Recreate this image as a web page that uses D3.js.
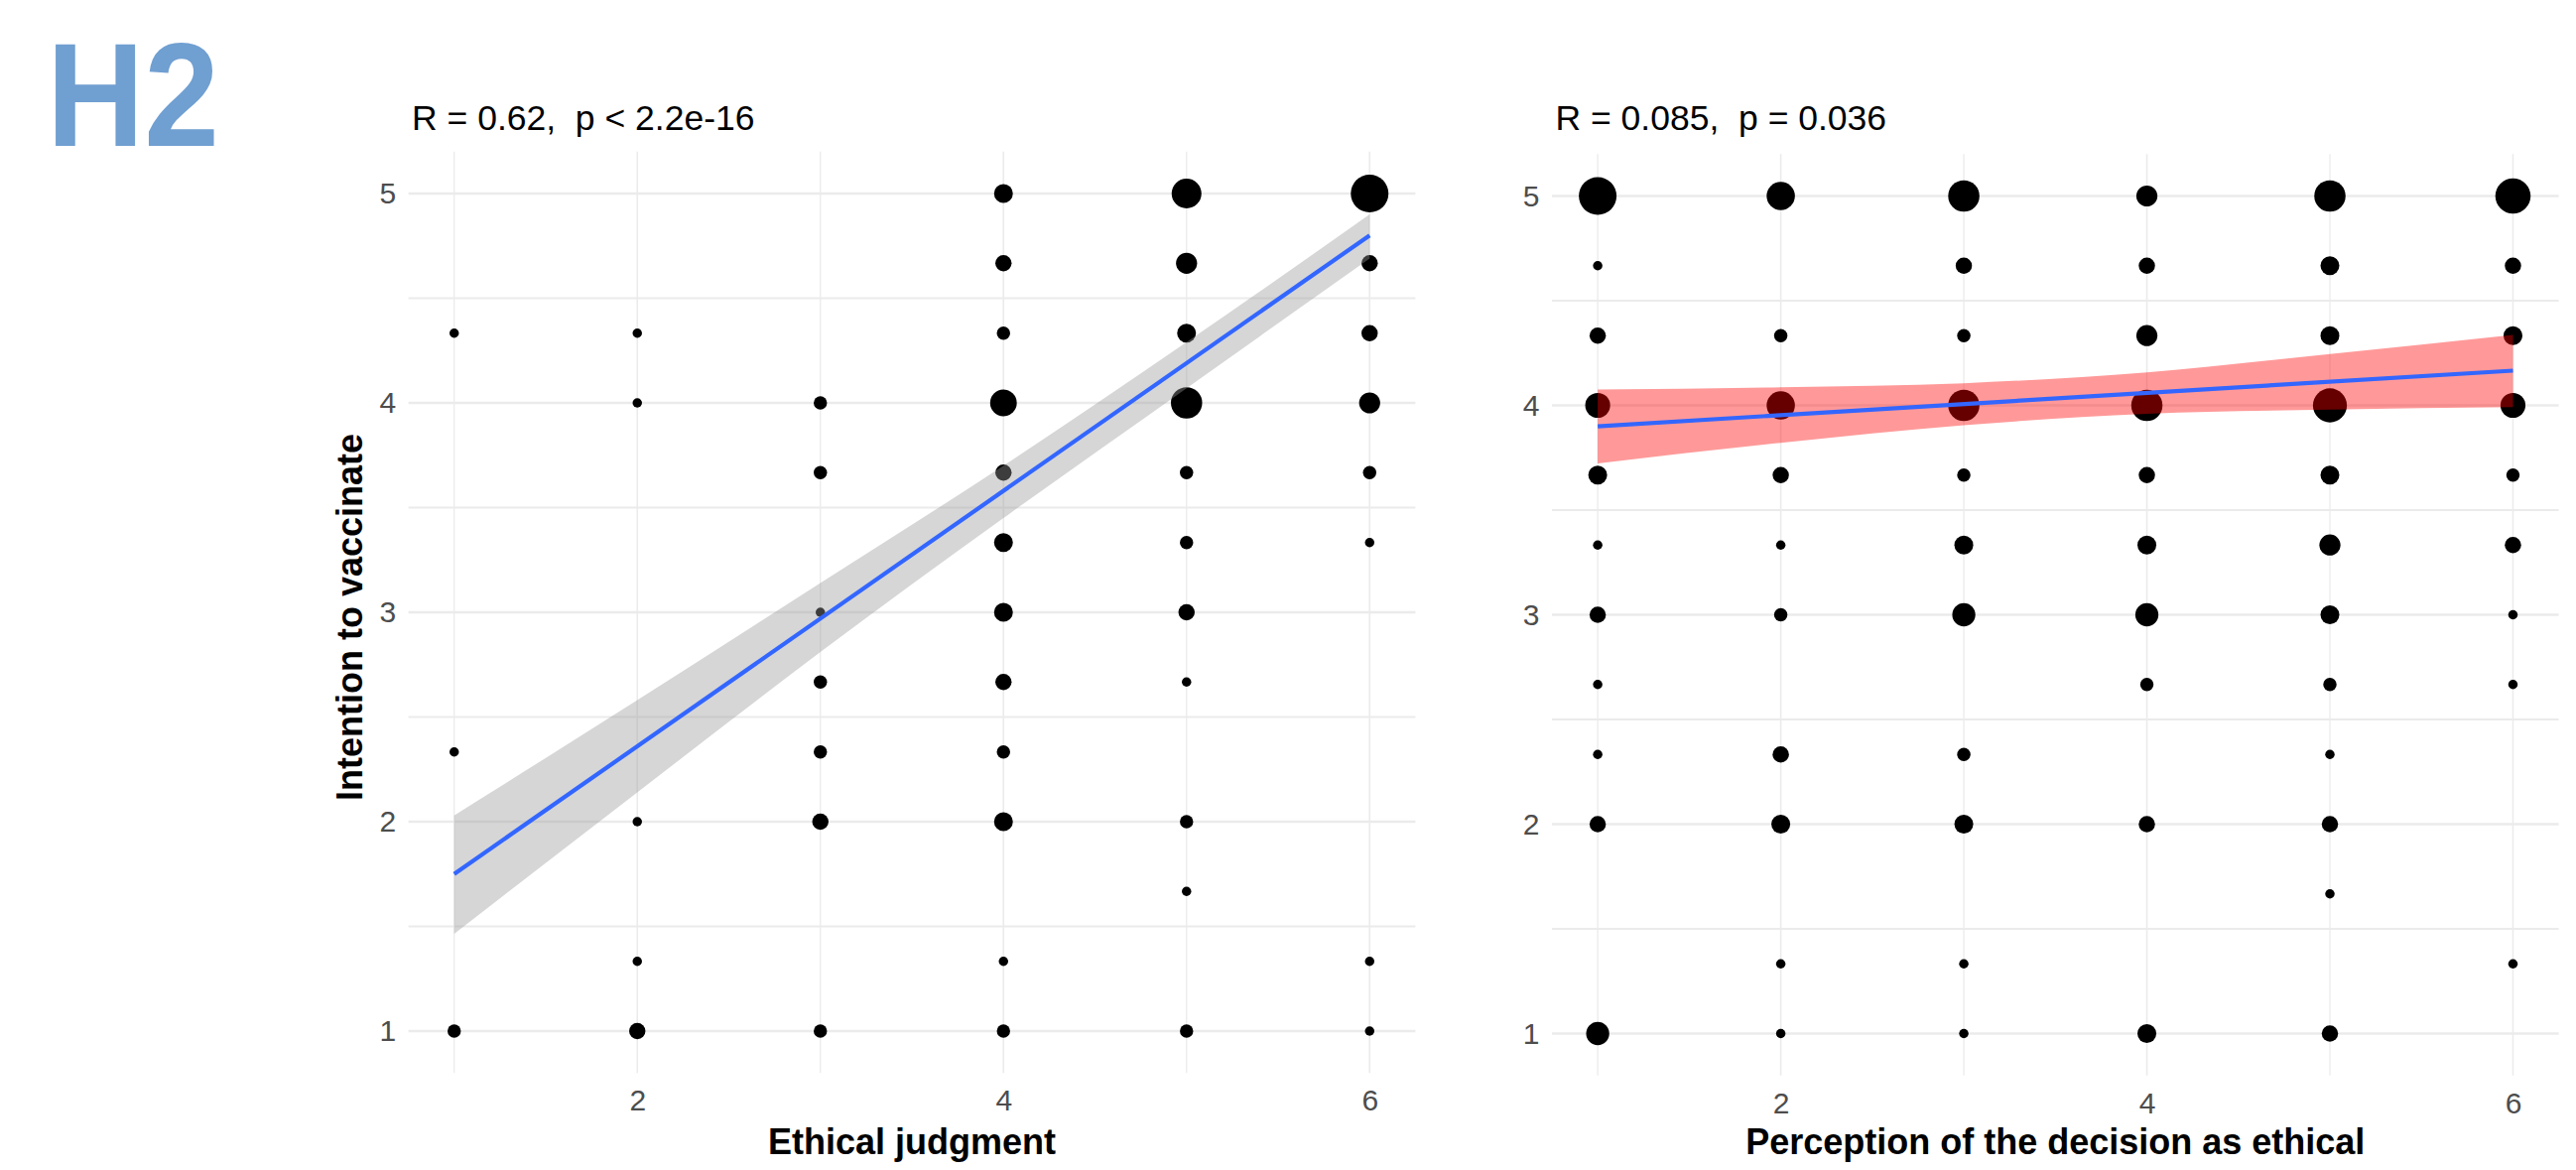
<!DOCTYPE html>
<html>
<head>
<meta charset="utf-8">
<script src="https://cdn.jsdelivr.net/npm/d3@7"></script>
<style>
  body { margin: 0; background: #fff; }
  svg text { font-family: "Liberation Sans", Arial, sans-serif; }
</style>
</head>
<body>
<svg id="chart"></svg>
<script>
const width = 2596;
const height = 1179;

// ticks and grid, same on both panels
const xTicks = [2, 4, 6];
const xMinor = [1, 3, 5];
const yTicks = [1, 2, 3, 4, 5];
const yMinor = [1.5, 2.5, 3.5, 4.5];

// [x, y, count] -- counts
const ethicalCounts = [
  [1, 4.333, 1], [1, 2.333, 1], [1, 1, 2],
  [2, 4.333, 1], [2, 4, 1], [2, 2, 1], [2, 1.333, 1], [2, 1, 3],
  [3, 4, 2], [3, 3.667, 2], [3, 3, 1], [3, 2.667, 2], [3, 2.333, 2], [3, 2, 3], [3, 1, 2],
  [4, 5, 4], [4, 4.667, 3], [4, 4.333, 2], [4, 4, 8], [4, 3.667, 3], [4, 3.333, 4], [4, 3, 4],
  [4, 2.667, 3], [4, 2.333, 2], [4, 2, 4], [4, 1.333, 1], [4, 1, 2],
  [5, 5, 10], [5, 4.667, 5], [5, 4.333, 4], [5, 4, 11], [5, 3.667, 2], [5, 3.333, 2], [5, 3, 3],
  [5, 2.667, 1], [5, 2, 2], [5, 1.667, 1], [5, 1, 2],
  [6, 5, 16], [6, 4.667, 3], [6, 4.333, 3], [6, 4, 5], [6, 3.667, 2], [6, 3.333, 1], [6, 1.333, 1], [6, 1, 1]
];

const perceptionCounts = [
  [1, 5, 16], [1, 4.667, 1], [1, 4.333, 3], [1, 4, 7], [1, 3.667, 4], [1, 3.333, 1], [1, 3, 3],
  [1, 2.667, 1], [1, 2.333, 1], [1, 2, 3], [1, 1, 6],
  [2, 5, 9], [2, 4.333, 2], [2, 4, 9], [2, 3.667, 3], [2, 3.333, 1], [2, 3, 2], [2, 2.333, 3],
  [2, 2, 4], [2, 1.333, 1], [2, 1, 1],
  [3, 5, 11], [3, 4.667, 3], [3, 4.333, 2], [3, 4, 11], [3, 3.667, 2], [3, 3.333, 4], [3, 3, 6],
  [3, 2.333, 2], [3, 2, 4], [3, 1.333, 1], [3, 1, 1],
  [4, 5, 5], [4, 4.667, 3], [4, 4.333, 5], [4, 4, 11], [4, 3.667, 3], [4, 3.333, 4], [4, 3, 6],
  [4, 2.667, 2], [4, 2, 3], [4, 1, 4],
  [5, 5, 11], [5, 4.667, 4], [5, 4.333, 4], [5, 4, 13], [5, 3.667, 4], [5, 3.333, 5], [5, 3, 4],
  [5, 2.667, 2], [5, 2.333, 1], [5, 2, 3], [5, 1.667, 1], [5, 1, 3],
  [6, 5, 14], [6, 4.667, 3], [6, 4.333, 4], [6, 4, 7], [6, 3.667, 2], [6, 3.333, 3], [6, 3, 1],
  [6, 2.667, 1], [6, 1.333, 1]
];

// fitted line [x, y] and confidence band [x, low, high]
const ethicalFit = [[1, 1.75], [6, 4.80]];
const ethicalBand = [
  [1, 1.465, 2.03], [2, 2.14, 2.58], [3, 2.81, 3.14],
  [4, 3.45, 3.70], [5, 4.07, 4.29], [6, 4.69, 4.90]
];
const perceptionFit = [[1, 3.90], [6, 4.166]];
const perceptionBand = [
  [1, 3.723, 4.076], [2, 3.821, 4.087], [3, 3.905, 4.106],
  [4, 3.96, 4.158], [5, 3.98, 4.245], [6, 3.992, 4.336]
];

const panels = [
  {
    label: 'R = 0.62,  p < 2.2e-16', xTitle: 'Ethical judgment', yTitle: 'Intention to vaccinate',
    counts: ethicalCounts, fit: ethicalFit, band: ethicalBand, bandFill: '#999999',
    left: 411.6, right: 1426.4, top: 152.8, bottom: 1081.2
  },
  {
    label: 'R = 0.085,  p = 0.036', xTitle: 'Perception of the decision as ethical', yTitle: null,
    counts: perceptionCounts, fit: perceptionFit, band: perceptionBand, bandFill: '#ff0000',
    left: 1564, right: 2578.6, top: 155.3, bottom: 1083.7
  }
];

const svg = d3.select('#chart')
  .attr('width', width)
  .attr('height', height)
  .style('background', '#fff');

// big header
svg.append('text')
  .attr('x', 47)
  .attr('y', 147)
  .attr('font-size', 149)
  .attr('font-weight', 'bold')
  .attr('fill', '#709fd1')
  .attr('textLength', 174)
  .attr('lengthAdjust', 'spacingAndGlyphs')
  .text('H2');

panels.forEach(drawPanel);

function drawPanel(p) {
  const x = d3.scaleLinear().domain([0.75, 6.25]).range([p.left, p.right]);
  const y = d3.scaleLinear().domain([0.8, 5.2]).range([p.bottom, p.top]);
  const r = d3.scaleSqrt().domain([0, 16]).range([0, 19]);

  const g = svg.append('g');

  // grid lines
  g.selectAll('.vgrid')
    .data(xMinor.concat(xTicks))
    .join('line')
    .attr('x1', d => x(d)).attr('x2', d => x(d))
    .attr('y1', p.top).attr('y2', p.bottom)
    .attr('stroke', '#ebebeb')
    .attr('stroke-width', d => xTicks.includes(d) ? 1.6 : 1.3);

  g.selectAll('.hgrid')
    .data(yMinor.concat(yTicks))
    .join('line')
    .attr('x1', p.left).attr('x2', p.right)
    .attr('y1', d => y(d)).attr('y2', d => y(d))
    .attr('stroke', '#ebebeb')
    .attr('stroke-width', d => yTicks.includes(d) ? 2.6 : 1.8);

  // counted points
  g.selectAll('circle')
    .data(p.counts)
    .join('circle')
    .attr('cx', d => x(d[0]))
    .attr('cy', d => y(d[1]))
    .attr('r', d => r(d[2]))
    .attr('fill', '#000');

  // confidence band goes over the points
  g.append('path')
    .datum(p.band)
    .attr('fill', p.bandFill)
    .attr('fill-opacity', 0.4)
    .attr('d', d3.area()
      .x(d => x(d[0]))
      .y0(d => y(d[1]))
      .y1(d => y(d[2]))
      .curve(d3.curveMonotoneX));

  g.append('path')
    .datum(p.fit)
    .attr('fill', 'none')
    .attr('stroke', '#3366ff')
    .attr('stroke-width', 4.2)
    .attr('d', d3.line().x(d => x(d[0])).y(d => y(d[1])));

  // axes, text only
  const yAxis = g.append('g')
    .attr('transform', `translate(${p.left},0)`)
    .call(d3.axisLeft(y).tickValues(yTicks).tickFormat(d3.format('d')).tickSize(0).tickPadding(12.5));
  const xAxis = g.append('g')
    .attr('transform', `translate(0,${p.bottom})`)
    .call(d3.axisBottom(x).tickValues(xTicks).tickFormat(d3.format('d')).tickSize(0).tickPadding(17));
  [yAxis, xAxis].forEach(a => {
    a.select('.domain').remove();
    a.attr('font-family', null).attr('font-size', null);
    a.selectAll('text').attr('font-size', 30).attr('fill', '#4d4d4d');
  });

  // correlation label
  g.append('text')
    .attr('x', p.left + 3.5)
    .attr('y', 130.5)
    .attr('font-size', 35.5)
    .attr('fill', '#000')
    .style('white-space', 'pre')
    .text(p.label);

  g.append('text')
    .attr('x', (p.left + p.right) / 2)
    .attr('y', 1163)
    .attr('text-anchor', 'middle')
    .attr('font-size', 36)
    .attr('font-weight', 'bold')
    .text(p.xTitle);

  if (p.yTitle) {
    g.append('text')
      .attr('transform', `translate(365,${(p.top + p.bottom) / 2 + 5}) rotate(-90)`)
      .attr('text-anchor', 'middle')
      .attr('font-size', 36)
      .attr('font-weight', 'bold')
      .text(p.yTitle);
  }
}
</script>
</body>
</html>
